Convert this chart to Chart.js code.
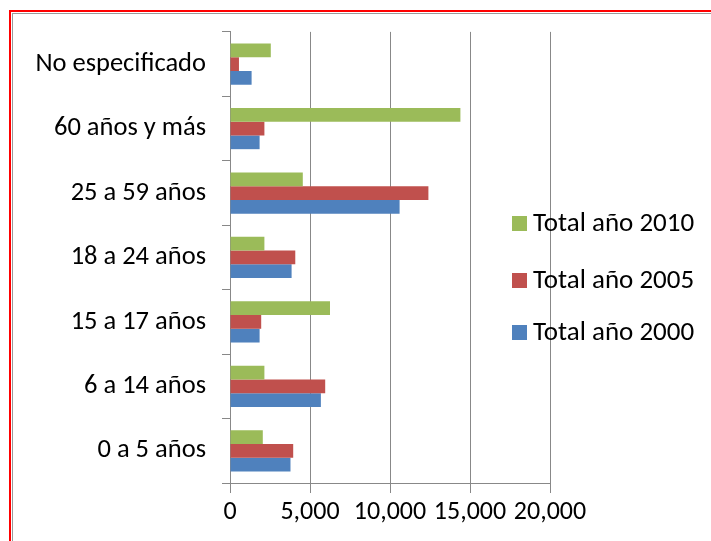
<!DOCTYPE html>
<html>
<head>
<meta charset="utf-8">
<script src="https://cdn.jsdelivr.net/npm/chart.js@4/dist/chart.umd.min.js"></script>
<style>
  html, body { margin: 0; padding: 0; background: #fff; overflow: hidden; }
  #wrap { position: relative; width: 711px; height: 541px; }
  #chart { position: absolute; left: 0; top: 0; }
  .frame { position: absolute; left: 9px; top: 10px; width: 800px; height: 700px;
           border-left: 2px solid #f00; border-top: 2px solid #f00; pointer-events: none; }
  .frame2 { position: absolute; left: 12px; top: 13px; width: 800px; height: 700px;
            border-left: 1px solid #999; border-top: 1px solid #999; pointer-events: none; }
</style>
</head>
<body>
<div id="wrap">
  <canvas id="chart" width="711" height="541"></canvas>
  <div class="frame"></div>
  <div class="frame2"></div>
</div>
<script>
// grupos de edad (de arriba hacia abajo)
const categorias = ['No especificado', '60 años y más', '25 a 59 años', '18 a 24 años',
                    '15 a 17 años', '6 a 14 años', '0 a 5 años'];
const total2010 = [2550, 14400, 4550, 2150, 6250, 2150, 2050];
const total2005 = [560, 2150, 12400, 4080, 1950, 5950, 3950];
const total2000 = [1350, 1850, 10600, 3850, 1850, 5680, 3780];
const series = ['Total año 2010', 'Total año 2005', 'Total año 2000'];
const colores = ['#9BBB59', '#C0504D', '#4F81BD'];
const ticksX = [0, 5000, 10000, 15000, 20000];

const FUENTE = "Carlito, 'Liberation Sans Narrow', 'DejaVu Sans Condensed', 'Open Sans', sans-serif";

// leyenda dibujada encima del área del gráfico, como en el original
const leyenda = {
  id: 'leyenda',
  afterDraw(chart) {
    const ctx = chart.ctx;
    const ys = [223, 280, 332];
    ctx.save();
    ctx.font = '27px ' + FUENTE;
    ctx.textBaseline = 'middle';
    chart.data.datasets.forEach((ds, i) => {
      ctx.fillStyle = ds.backgroundColor;
      ctx.fillRect(512, ys[i] - 7, 15, 15);
      ctx.fillStyle = '#000';
      ctx.fillText(ds.label, 533, ys[i] + 1);
    });
    ctx.restore();
  }
};

new Chart(document.getElementById('chart'), {
  type: 'bar',
  data: {
    labels: categorias,
    datasets: [total2010, total2005, total2000].map((d, i) => ({
      label: series[i],
      data: d,
      backgroundColor: colores[i],
      categoryPercentage: 0.64,
      barPercentage: 1
    }))
  },
  options: {
    indexAxis: 'y',
    responsive: false,
    animation: false,
    locale: 'en-US',
    layout: { padding: { top: 31, right: 161, bottom: 0, left: 0 } },
    plugins: { legend: { display: false }, tooltip: { enabled: false } },
    scales: {
      x: {
        min: 0, max: 20000,
        afterBuildTicks: s => { s.ticks = ticksX.map(v => ({ value: v })); },
        afterFit: s => { s.height = 58; },
        grid: { color: '#888', lineWidth: 1, tickLength: 10 },
        border: { color: '#888' },
        ticks: { autoSkip: false, maxRotation: 0, padding: 4, color: '#000',
                 font: { size: 26, family: FUENTE } }
      },
      y: {
        afterFit: s => { s.width = 230; },
        grid: { drawOnChartArea: false, color: '#888', tickLength: 8, offset: true },
        border: { color: '#888' },
        ticks: { padding: 16, color: '#000', font: { size: 26.5, family: FUENTE } }
      }
    }
  },
  plugins: [leyenda]
});
</script>
</body>
</html>
